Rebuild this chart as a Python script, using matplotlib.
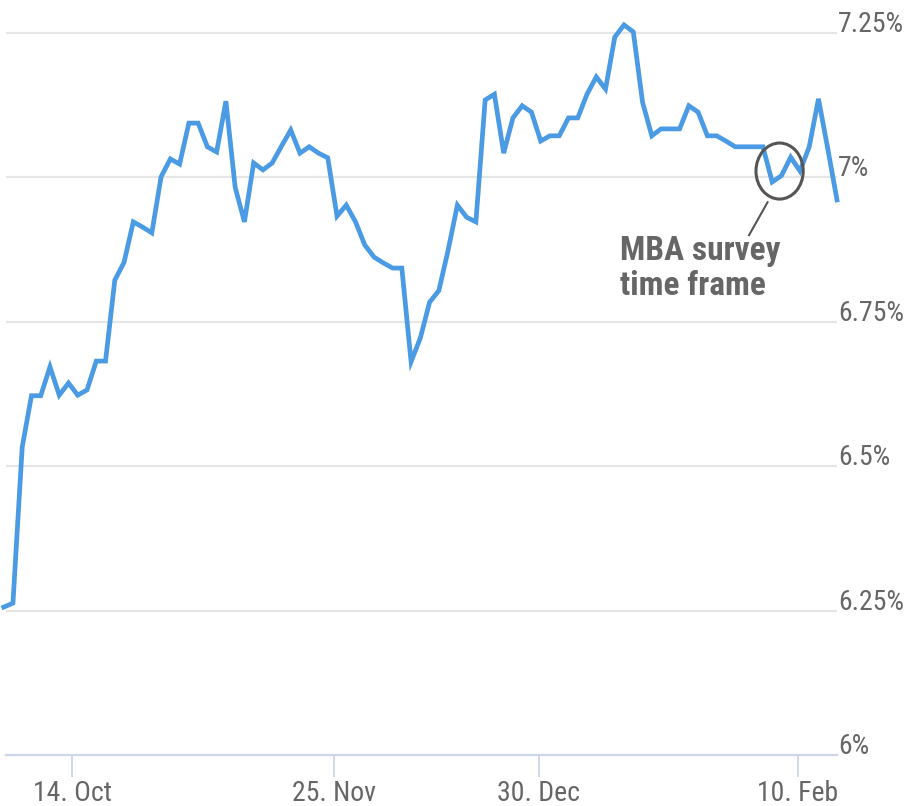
import numpy as np
import matplotlib
matplotlib.use("Agg")
import matplotlib.pyplot as plt
from matplotlib import font_manager
from matplotlib.patches import Ellipse
from matplotlib.transforms import offset_copy

# 30-year mortgage rate, one value per trading day (ordinal x axis)
rates = [6.256, 6.263, 6.533, 6.622, 6.622, 6.672, 6.623, 6.644, 6.623, 6.632,
         6.682, 6.682, 6.822, 6.853, 6.923, 6.914, 6.904, 7.001, 7.032, 7.023,
         7.094, 7.094, 7.053, 7.044, 7.132, 6.983, 6.923, 7.025, 7.013, 7.025,
         7.054, 7.082, 7.042, 7.053, 7.042, 7.034, 6.933, 6.952, 6.923, 6.883,
         6.862, 6.852, 6.843, 6.843, 6.681, 6.722, 6.784, 6.804, 6.874, 6.952,
         6.931, 6.923, 7.134, 7.144, 7.042, 7.103, 7.124, 7.113, 7.063, 7.072,
         7.072, 7.103, 7.103, 7.144, 7.174, 7.153, 7.243, 7.264, 7.252, 7.130,
         7.072, 7.084, 7.084, 7.084, 7.124, 7.113, 7.072, 7.072, 7.063, 7.053,
         7.053, 7.053, 7.053, 6.992, 7.003, 7.035, 7.011, 7.053, 7.136, 7.050,
         6.961]
date_ticks = [7.38, 35.67, 57.81, 85.78]
date_labels = ["14. Oct", "25. Nov", "30. Dec", "10. Feb"]
rate_ticks = [6.0, 6.25, 6.5, 6.75, 7.0, 7.25]
rate_labels = ["6%", "6.25%", "6.5%", "6.75%", "7%", "7.25%"]

def pick_font(names):
    for n in names:
        try:
            font_manager.findfont(n, fallback_to_default=False)
            return n
        except Exception:
            pass
    return "DejaVu Sans"

fam = pick_font(["Liberation Sans Narrow", "Roboto Condensed", "Open Sans"])
plt.rcParams['font.family'] = [fam, 'DejaVu Sans']

W, H = 909, 806
fig = plt.figure(figsize=(W / 100, H / 100), dpi=100)
ax = fig.add_axes([6 / W, (H - 755) / H, (837 - 6) / W, 755 / H])

x = np.arange(len(rates))
ax.plot(x, rates, color='#4a9ae4', lw=3.4, solid_joinstyle='miter', clip_on=False, zorder=3)

ax.set_xlim(0.25, 90)
ax.set_ylim(6.0, 6.0 + 755 / 577.6)

for v in rate_ticks[1:]:
    ax.axhline(v, color='#e6e6e6', lw=1.6, zorder=1)
for s in ['top', 'right', 'left']:
    ax.spines[s].set_visible(False)
ax.spines['bottom'].set_color('#ccd6eb')
ax.spines['bottom'].set_linewidth(1.6)

ax.set_yticks([])
ax.set_xticks(date_ticks)
ax.set_xticklabels(date_labels, fontsize=20, color='#666666')
ax.tick_params(axis='x', length=16, width=1.3, color='#ccd6eb', pad=2)

trans = offset_copy(ax.get_yaxis_transform(), fig=fig, x=1, y=1, units='dots')
for v, lab in zip(rate_ticks, rate_labels):
    ax.text(1.0, v, lab, transform=trans, ha='left', va='baseline',
            fontsize=20, color='#666666', clip_on=False)

# annotation
ax.add_patch(Ellipse((83.8, 7.011), 5.1, 0.097, fill=False, ec='#555555', lw=2.2, zorder=4))
ax.plot([82.5, 80.5], [6.957, 6.900], color='#555555', lw=1.5, zorder=4)
ax.text(66.6, 6.900, "MBA survey\ntime frame", ha='left', va='top', fontsize=24,
        fontweight='bold', color='#666666', linespacing=1.1)

fig.savefig("out.png", dpi=100)
